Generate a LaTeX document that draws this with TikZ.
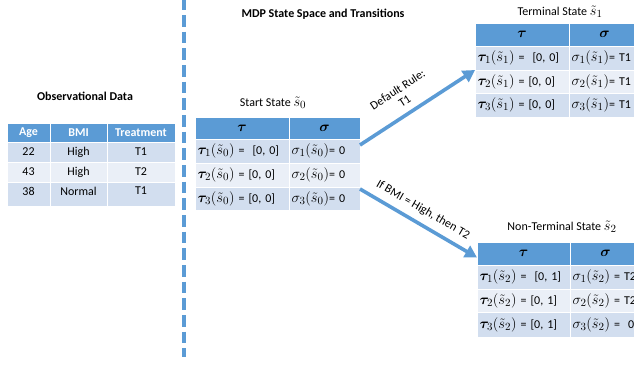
\documentclass[tikz,border=0pt]{standalone}
\usepackage{amsmath}
\usepackage{bm}
\usepackage[no-math]{fontspec}
\setmainfont{Carlito}
\usetikzlibrary{arrows.meta}
\definecolor{hdrblue}{HTML}{5B9BD5}
\definecolor{rowdark}{HTML}{D2DEEF}
\definecolor{rowlight}{HTML}{EAEFF7}
\newcommand{\mth}[1]{{\fontsize{15}{16}\selectfont$#1$}}
\tikzset{
  cell/.style={rectangle, draw=white, line width=0.8pt, anchor=north west, inner ysep=0pt, inner xsep=0pt, outer sep=0pt, font=\fontsize{12}{14}\selectfont},
  hdr/.style={cell, fill=hdrblue},
  dk/.style={cell, fill=rowdark},
  lt/.style={cell, fill=rowlight},
  wh/.style={text=white, font=\bfseries\fontsize{12}{14}\selectfont},
  lcell/.style={text width=#1, inner xsep=2.5pt, align=left},
  ttl/.style={font=\fontsize{12}{14}\selectfont, inner sep=0pt},
  bttl/.style={font=\bfseries\fontsize{12}{14}\selectfont, inner sep=0pt},
  arr/.style={draw=hdrblue, line width=3.6pt, -{Triangle[length=12pt,width=13pt]}},
  lbl/.style={font=\fontsize{12}{13}\selectfont, inner sep=0pt, align=center}
}
\begin{document}
\begin{tikzpicture}[x=1pt,y=-1pt]
\useasboundingbox (0,0) rectangle (634,364);
% divider
\coordinate (dtop) at (184,-1.67);
\coordinate (dbot) at (184,357);
\draw[hdrblue, line width=4pt, dash pattern=on 11.67pt off 5pt] (dtop) -- (dbot);
% titles
\node[bttl] (t1) at (85,96) {Observational Data};
\node[bttl] (t2) at (323,14) {MDP State Space and Transitions};
\node[ttl] (t3) at (273,103) {Start State \mth{\tilde{s}_0}};
\node[ttl] (t4) at (560,12) {Terminal State \mth{\tilde{s}_1}};
\node[ttl] (t5) at (562,227) {Non-Terminal State \mth{\tilde{s}_2}};
% observational table
\node[hdr, wh, minimum width=43pt, minimum height=19pt] (oh1) at (7,123) {Age};
\node[hdr, wh, minimum width=57pt, minimum height=19pt] (oh2) at (50,123) {BMI};
\node[hdr, wh, minimum width=68pt, minimum height=19pt] (oh3) at (107,123) {Treatment};
\node[dk, minimum width=43pt, minimum height=20pt] (o11) at (7,142) {22};
\node[dk, minimum width=57pt, minimum height=20pt] (o12) at (50,142) {High};
\node[dk, minimum width=68pt, minimum height=20pt] (o13) at (107,142) {T1};
\node[lt, minimum width=43pt, minimum height=20pt] (o21) at (7,162) {43};
\node[lt, minimum width=57pt, minimum height=20pt] (o22) at (50,162) {High};
\node[lt, minimum width=68pt, minimum height=20pt] (o23) at (107,162) {T2};
\node[dk, minimum width=43pt, minimum height=24pt, text depth=6pt] (o31) at (7,182) {38};
\node[dk, minimum width=57pt, minimum height=24pt, text depth=6pt] (o32) at (50,182) {Normal};
\node[dk, minimum width=68pt, minimum height=24pt, text depth=6pt] (o33) at (107,182) {T1};
% start state table
\node[hdr, minimum width=94pt, minimum height=22pt] (s0ha) at (195,117) {\mth{\bm{\tau}}};
\node[hdr, minimum width=71pt, minimum height=22pt] (s0hb) at (289,117) {\mth{\bm{\sigma}}};
\node[dk, lcell=89pt, minimum height=24pt] (s0r1a) at (195,139) {\mth{\bm{\tau}_1(\tilde{s}_0)} = \ [0, 0]};
\node[dk, lcell=66pt, minimum height=24pt] (s0r1b) at (289,139) {\mth{\sigma_1(\tilde{s}_0)}= 0};
\node[lt, lcell=89pt, minimum height=24pt] (s0r2a) at (195,163) {\mth{\bm{\tau}_2(\tilde{s}_0)} = [0, 0]};
\node[lt, lcell=66pt, minimum height=24pt] (s0r2b) at (289,163) {\mth{\sigma_2(\tilde{s}_0)}= 0};
\node[dk, lcell=89pt, minimum height=23pt] (s0r3a) at (195,187) {\mth{\bm{\tau}_3(\tilde{s}_0)} = [0, 0]};
\node[dk, lcell=66pt, minimum height=23pt] (s0r3b) at (289,187) {\mth{\sigma_3(\tilde{s}_0)}= 0};
% terminal state table
\node[hdr, minimum width=94pt, minimum height=23pt] (s1ha) at (475,23) {\mth{\bm{\tau}}};
\node[hdr, minimum width=71pt, minimum height=23pt] (s1hb) at (569,23) {\mth{\bm{\sigma}}};
\node[dk, lcell=89pt, minimum height=24pt] (s1r1a) at (475,46) {\mth{\bm{\tau}_1(\tilde{s}_1)} = \ [0, 0]};
\node[dk, lcell=66pt, minimum height=24pt] (s1r1b) at (569,46) {\mth{\sigma_1(\tilde{s}_1)}= T1};
\node[lt, lcell=89pt, minimum height=23pt] (s1r2a) at (475,70) {\mth{\bm{\tau}_2(\tilde{s}_1)} = [0, 0]};
\node[lt, lcell=66pt, minimum height=23pt] (s1r2b) at (569,70) {\mth{\sigma_2(\tilde{s}_1)}= T1};
\node[dk, lcell=89pt, minimum height=24pt] (s1r3a) at (475,93) {\mth{\bm{\tau}_3(\tilde{s}_1)} = [0, 0]};
\node[dk, lcell=66pt, minimum height=24pt] (s1r3b) at (569,93) {\mth{\sigma_3(\tilde{s}_1)}= T1};
% non-terminal state table
\node[hdr, minimum width=93pt, minimum height=23pt] (s2ha) at (477,242) {\mth{\bm{\tau}}};
\node[hdr, minimum width=71pt, minimum height=23pt] (s2hb) at (570,242) {\mth{\bm{\sigma}}};
\node[dk, lcell=88pt, minimum height=24pt] (s2r1a) at (477,265) {\mth{\bm{\tau}_1(\tilde{s}_2)} = \ [0, 1]};
\node[dk, lcell=66pt, minimum height=24pt] (s2r1b) at (570,265) {\mth{\sigma_1(\tilde{s}_2)} = T2};
\node[lt, lcell=88pt, minimum height=23pt] (s2r2a) at (477,289) {\mth{\bm{\tau}_2(\tilde{s}_2)} = [0, 1]};
\node[lt, lcell=66pt, minimum height=23pt] (s2r2b) at (570,289) {\mth{\sigma_2(\tilde{s}_2)} = T2};
\node[dk, lcell=88pt, minimum height=25pt] (s2r3a) at (477,312) {\mth{\bm{\tau}_3(\tilde{s}_2)} = [0, 1]};
\node[dk, lcell=66pt, minimum height=25pt] (s2r3b) at (570,312) {\mth{\sigma_3(\tilde{s}_2)} = \ 0};
% arrows
\draw[arr] ([yshift=-6pt]s0r1b.north east) -- (s1r2a.north west);
\draw[arr] ([yshift=-2pt]s0r3b.north east) -- ([yshift=-4pt]s2ha.west);
\node[lbl, rotate=33] (l1) at (401,95) {Default Rule:\\T1};
\node[lbl, rotate=-30] (l2) at (423,210) {If BMI = High, then T2};
\end{tikzpicture}
\end{document}
